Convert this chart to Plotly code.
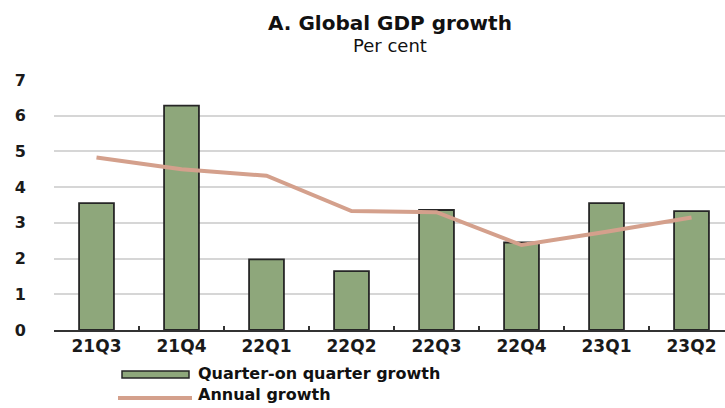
import plotly.graph_objects as go

quarters = ["21Q3", "21Q4", "22Q1", "22Q2", "22Q3", "22Q4", "23Q1", "23Q2"]
qoq_growth = [3.55, 6.28, 1.98, 1.65, 3.36, 2.45, 3.55, 3.33]
annual_growth = [4.83, 4.50, 4.32, 3.33, 3.30, 2.38, 2.75, 3.15]
y_ticks = [0, 1, 2, 3, 4, 5, 6, 7]

BAR_COLOR = "#8EA77B"
BAR_EDGE = "#262626"
LINE_COLOR = "#D4A08C"
FONT = "DejaVu Sans"

fig = go.Figure()
fig.add_trace(go.Bar(
    x=quarters, y=qoq_growth, name="Quarter-on quarter growth",
    marker=dict(color=BAR_COLOR, line=dict(color=BAR_EDGE, width=1.8)),
    width=0.41, showlegend=False,
))
fig.add_trace(go.Scatter(
    x=quarters, y=annual_growth, name="Annual growth", mode="lines",
    line=dict(color=LINE_COLOR, width=4), showlegend=False,
))

W, H = 725, 408
L, R, T, B = 54, 0, 80, 78

fig.update_layout(
    width=W, height=H,
    margin=dict(l=L, r=R, t=T, b=B),
    paper_bgcolor="white", plot_bgcolor="white",
    font=dict(family=FONT, color="#1a1a1a"),
    xaxis=dict(
        type="category", range=[-0.5, 7.394],
        showline=True, linecolor="#333333", linewidth=2,
        ticks="inside", tickson="boundaries", ticklen=4, tickwidth=1.5, tickcolor="#333333",
        tickfont=dict(size=17, family=FONT, weight="bold", color="#1a1a1a"),
        showgrid=False,
    ),
    yaxis=dict(
        range=[0, 7], tickvals=y_ticks,
        showgrid=True, gridcolor="#d6d6d6", gridwidth=1.5,
        zeroline=False, showline=False, ticks="",
        ticklabelstandoff=27,
        tickfont=dict(size=16, family=FONT, weight="bold", color="#1a1a1a"),
    ),
)

def px_x(x):
    return (x - L) / (W - L - R)

def px_y(y):
    return (H - B - y) / (H - T - B)

# Title
fig.add_annotation(text="<b>A. Global GDP growth</b>", x=px_x(390), y=px_y(23),
                   xref="paper", yref="paper", xanchor="center", yanchor="middle",
                   showarrow=False, font=dict(size=20, family=FONT, color="#111111"))
fig.add_annotation(text="Per cent", x=px_x(390), y=px_y(45),
                   xref="paper", yref="paper", xanchor="center", yanchor="middle",
                   showarrow=False, font=dict(size=18, family=FONT, color="#111111"))

# Custom legend
fig.add_shape(type="rect", xref="paper", yref="paper",
              x0=px_x(122), x1=px_x(189), y0=px_y(378), y1=px_y(371),
              fillcolor=BAR_COLOR, line=dict(color=BAR_EDGE, width=1.5))
fig.add_annotation(text="<b>Quarter-on quarter growth</b>", x=px_x(197), y=px_y(373),
                   xref="paper", yref="paper", xanchor="left", yanchor="middle",
                   showarrow=False, borderpad=0,
                   font=dict(size=16, family=FONT, color="#111111"))
fig.add_shape(type="line", xref="paper", yref="paper",
              x0=px_x(118), x1=px_x(192), y0=px_y(398), y1=px_y(398),
              line=dict(color=LINE_COLOR, width=4))
fig.add_annotation(text="<b>Annual growth</b>", x=px_x(197), y=px_y(394),
                   xref="paper", yref="paper", xanchor="left", yanchor="middle",
                   showarrow=False, borderpad=0,
                   font=dict(size=16, family=FONT, color="#111111"))

fig.write_html("out.html", config={"displayModeBar": False},
               post_script="document.body.style.margin='0';document.body.style.overflow='hidden';")
